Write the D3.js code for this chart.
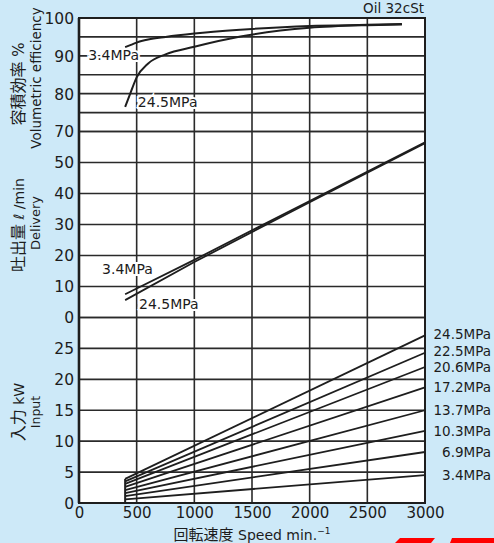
<!DOCTYPE html>
<html><head><meta charset="utf-8">
<script src="https://cdn.jsdelivr.net/npm/d3@7/dist/d3.min.js"></script>
<style>
html,body{margin:0;padding:0;background:#cde9f8;}
svg{display:block;}
text{font-family:"DejaVu Sans",sans-serif;fill:#1c1c1c;}
.cjk{font-family:"Noto Sans CJK JP",sans-serif;}
</style></head><body>
<svg id="c" width="494" height="543"></svg>
<script>
// ---- data ----
const speedTicks = [0, 500, 1000, 1500, 2000, 2500, 3000];
const effTicks = [70, 80, 90, 100];
const effGrid = [70, 75, 80, 85, 90, 95, 100];
const delTicks = [0, 10, 20, 30, 40, 50];
const delGrid = [0, 10, 20, 30, 40, 50, 60];
const kwTicks = [0, 5, 10, 15, 20, 25];
const kwGrid = [0, 5, 10, 15, 20, 25, 30];

const effSpeed = [400, 450, 500, 600, 750, 1000, 1400, 2000, 2500, 2800];
const eff34 = [92.3, 92.9, 93.5, 94.3, 95.0, 95.9, 96.9, 97.9, 98.2, 98.4];
const eff245 = [76.5, 80.5, 84.3, 88.0, 90.4, 92.4, 95.1, 97.4, 98.1, 98.3];

const delSpeed = [400, 1000, 2000, 3000];
const del34 = [7.5, 18.6, 37.6, 56.5];
const del245 = [5.6, 17.9, 37.2, 56.2];

const kwSpeed = [400, 3000];
const kwPressures = ["24.5MPa", "22.5MPa", "20.6MPa", "17.2MPa", "13.7MPa", "10.3MPa", "6.9MPa", "3.4MPa"];
const kwStart = [3.9, 3.5, 3.1, 2.6, 2.1, 1.6, 1.1, 0.6];
const kwEnd = [27.1, 24.3, 22.0, 18.7, 15.0, 11.65, 8.25, 4.5];

// ---- layout ----
const svg = d3.select("#c");
const x = d3.scaleLinear().domain([0, 3000]).range([79, 425]);
const yE = d3.scaleLinear().domain([70, 100]).range([131.5, 18]);
const yD = d3.scaleLinear().domain([0, 60]).range([317.5, 131.5]);
const yK = d3.scaleLinear().domain([0, 30]).range([503, 317.5]);
const ink = "#1e1e1e";

svg.append("rect").attr("x", x(0)).attr("y", yE(100)).attr("width", x(3000) - x(0))
  .attr("height", yK(0) - yE(100)).attr("fill", "#fff");

// grid
const g = svg.append("g").attr("stroke", "#2a2a2a").attr("stroke-width", 1.6);
function hgrid(vals, y) {
  g.selectAll(null).data(vals).enter().append("line")
    .attr("x1", x(0)).attr("x2", x(3000)).attr("y1", d => y(d)).attr("y2", d => y(d));
}
hgrid(effGrid, yE); hgrid(delGrid, yD); hgrid(kwGrid, yK);
g.selectAll(null).data(speedTicks).enter().append("line")
  .attr("x1", d => x(d)).attr("x2", d => x(d)).attr("y1", yE(100)).attr("y2", yK(0));
svg.append("rect").attr("x", x(0)).attr("y", yE(100)).attr("width", x(3000) - x(0))
  .attr("height", yK(0) - yE(100)).attr("fill", "none").attr("stroke", ink).attr("stroke-width", 2);
svg.append("line").attr("x1", x(0)).attr("x2", x(0)).attr("y1", yE(100)).attr("y2", yK(0))
  .attr("stroke", ink).attr("stroke-width", 2.6);

// axes (tick labels)
function yAxis(scale, ticks) {
  const a = svg.append("g").attr("transform", `translate(${x(0) - 5},0)`)
    .call(d3.axisLeft(scale).tickValues(ticks).tickSize(0).tickPadding(0));
  a.select(".domain").remove();
  a.selectAll("text").attr("font-size", 15.5).attr("font-family", "DejaVu Sans").attr("fill", "#1c1c1c").attr("dy", "0.35em");
}
yAxis(yE, effTicks); yAxis(yD, delTicks); yAxis(yK, kwTicks);
const xa = svg.append("g").attr("transform", `translate(0,${yK(0) + 4})`)
  .call(d3.axisBottom(x).tickValues(speedTicks).tickSize(0).tickPadding(0).tickFormat(d3.format("d")));
xa.select(".domain").remove();
xa.selectAll("text").attr("font-size", 15).attr("font-family", "DejaVu Sans").attr("fill", "#1c1c1c");

// curves
const lineE = d3.line().curve(d3.curveMonotoneX).x(d => x(d[0])).y(d => yE(d[1]));
[eff34, eff245].forEach(vals => {
  svg.append("path").attr("d", lineE(effSpeed.map((s, i) => [s, vals[i]])))
    .attr("fill", "none").attr("stroke", ink).attr("stroke-width", 2);
});
const lineD = d3.line().x(d => x(d[0])).y(d => yD(d[1]));
[del34, del245].forEach(vals => {
  svg.append("path").attr("d", lineD(delSpeed.map((s, i) => [s, vals[i]])))
    .attr("fill", "none").attr("stroke", ink).attr("stroke-width", 1.8);
});
const lineK = d3.line().x(d => x(d[0])).y(d => yK(d[1]));
const labNudge = [-1, -2, 0, 0, 0, 0, 0, 0];
kwPressures.forEach((p, i) => {
  svg.append("path").attr("d", lineK([[kwSpeed[0], kwStart[i]], [kwSpeed[1], kwEnd[i]]]))
    .attr("fill", "none").attr("stroke", ink).attr("stroke-width", 1.8);
  svg.append("text").attr("x", 491).attr("y", yK(kwEnd[i]) + labNudge[i]).attr("dy", "0.36em")
    .attr("text-anchor", "end").attr("font-size", 13.5).text(p);
});
svg.append("line").attr("x1", x(kwSpeed[0])).attr("x2", x(kwSpeed[0]))
  .attr("y1", yK(0)).attr("y2", yK(d3.max(kwStart))).attr("stroke", ink).attr("stroke-width", 2);

// in-plot labels with white halo
function lab(txt, px, py) {
  svg.append("text").attr("x", px).attr("y", py).attr("dy", "0.36em").attr("font-size", 14)
    .attr("stroke", "#fff").attr("stroke-width", 4).attr("paint-order", "stroke").text(txt);
}
lab("3.4MPa", x(80), yE(90.3));
lab("24.5MPa", x(510), yE(77.8));
lab("3.4MPa", x(200), yD(15.6));
lab("24.5MPa", x(520), yD(4.3));

svg.append("text").attr("x", 424).attr("y", 13).attr("text-anchor", "end").attr("font-size", 13.5).text("Oil 32cSt");

// axis titles
function vtitle(cx, cy, parts) {
  const t = svg.append("text").attr("transform", `translate(${cx},${cy}) rotate(-90)`).attr("text-anchor", "middle");
  parts.forEach(p => t.append("tspan").attr("class", p[2] ? "cjk" : null).attr("font-size", p[1]).text(p[0]));
}
vtitle(24, 84, [["容積効率", 16, 1], [" %", 15, 0]]);
vtitle(41, 78, [["Volumetric efficiency", 13.5, 0]]);
vtitle(24, 225, [["吐出量", 16, 1], [" ℓ /min", 14, 0]]);
vtitle(40, 223, [["Delivery", 13, 0]]);
vtitle(24, 412, [["入力", 16, 1], [" kW", 14, 0]]);
vtitle(40, 412, [["Input", 12.5, 0]]);

const xt = svg.append("text").attr("x", 252).attr("y", 540).attr("text-anchor", "middle");
xt.append("tspan").attr("class", "cjk").attr("font-size", 15).text("回転速度");
xt.append("tspan").attr("font-size", 14).text(" Speed min.");
xt.append("tspan").attr("font-size", 9).attr("dy", -6).text("−1");

// red decoration
svg.append("polygon").attr("points", "400,538 435,538 431,543 395,543").attr("fill", "#ff0000");
svg.append("polygon").attr("points", "452,538 494,538 494,543 450,543").attr("fill", "#ff0000");
</script>
</body></html>
